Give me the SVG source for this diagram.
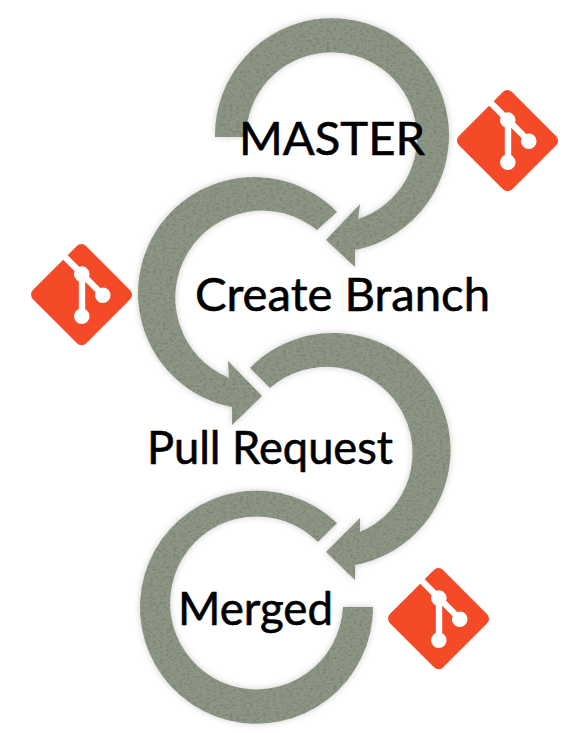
<svg xmlns="http://www.w3.org/2000/svg" width="584" height="733" viewBox="0 0 584 733">
<style>
.band{fill:#8d9684;filter:url(#tex)}
.lbl{font-family:"Lato","Noto Sans","Liberation Sans",sans-serif;font-size:46px;fill:#000;stroke:#000;stroke-width:.6px}
.logo{fill:#f44a27}
</style>
<defs>
<filter id="tex" x="-10%" y="-10%" width="120%" height="120%" color-interpolation-filters="sRGB">
<feGaussianBlur in="SourceAlpha" stdDeviation="3" result="b"/>
<feFlood flood-color="#000" flood-opacity=".2"/>
<feComposite in2="b" operator="in" result="shadow"/>
<feTurbulence type="fractalNoise" baseFrequency=".3 .42" numOctaves="3" seed="4" result="n"/>
<feColorMatrix in="n" type="matrix" values="0 0 0 0 .36  0 0 0 0 .39  0 0 0 0 .33  0 0 0 1.1 -.5" result="spots"/>
<feComposite in="spots" in2="SourceAlpha" operator="in" result="tex"/>
<feMerge><feMergeNode in="shadow"/><feMergeNode in="SourceGraphic"/><feMergeNode in="tex"/></feMerge>
</filter>
<path id="git" d="M90.156 41.965 50.036 1.848a5.918 5.918 0 0 0-8.372 0l-8.328 8.332 10.566 10.566a7.03 7.03 0 0 1 7.23 1.684 7.034 7.034 0 0 1 1.669 7.277l10.187 10.184a7.028 7.028 0 0 1 7.278 1.672 7.04 7.04 0 0 1 0 9.957 7.05 7.05 0 0 1-9.965 0 7.044 7.044 0 0 1-1.528-7.66l-9.5-9.497V59.36a7.04 7.04 0 0 1 1.86 11.29 7.04 7.04 0 0 1-9.957 0 7.04 7.04 0 0 1 0-9.958 7.06 7.06 0 0 1 2.304-1.539V33.926a7.049 7.049 0 0 1-3.82-9.234L29.242 14.272 1.73 41.777a5.925 5.925 0 0 0 0 8.371L41.852 90.27a5.925 5.925 0 0 0 8.37 0l39.934-39.934a5.925 5.925 0 0 0 0-8.371"/>
</defs>
<rect width="584" height="733" fill="#fff"/>
<g id="connectors">
<path class="band" d="M215,137 A117,117 0 1 1 355,250 L355,267 L326,240 L360,204 L358,219 A85.5,85.5 0 1 0 246,137 Z"/>
<path class="band" d="M337,212 A116,116 0 1 0 232,407 L232,425 L262,396 L228,361 L229,378 A87,87 0 1 1 317,230 Z"/>
<path class="band" d="M250,368 A117,117 0 1 1 355,565 L355,580 L326,552 L360,518 L360,532 A86,86 0 1 0 270,388 Z"/>
<path class="band" d="M337,523 A116.5,116.5 0 1 0 373,607 L343,607 A86.5,86.5 0 1 1 318,542 Z"/>
</g>
<g id="node-master"><text class="lbl" x="239" y="155" textLength="186" lengthAdjust="spacingAndGlyphs">MASTER</text></g>
<g id="node-create-branch"><text class="lbl" x="195" y="311" textLength="295" lengthAdjust="spacingAndGlyphs">Create Branch</text></g>
<g id="node-pull-request"><text class="lbl" x="147" y="464" textLength="246" lengthAdjust="spacingAndGlyphs">Pull Request</text></g>
<g id="node-merged"><text class="lbl" x="178" y="625" textLength="155" lengthAdjust="spacingAndGlyphs">Merged</text></g>
<g id="logo-master"><use href="#git" class="logo" transform="translate(457,90) scale(1.1)"/></g>
<g id="logo-branch"><use href="#git" class="logo" transform="translate(31,244) scale(1.1)"/></g>
<g id="logo-merged"><use href="#git" class="logo" transform="translate(388,568) scale(1.1)"/></g>
</svg>
